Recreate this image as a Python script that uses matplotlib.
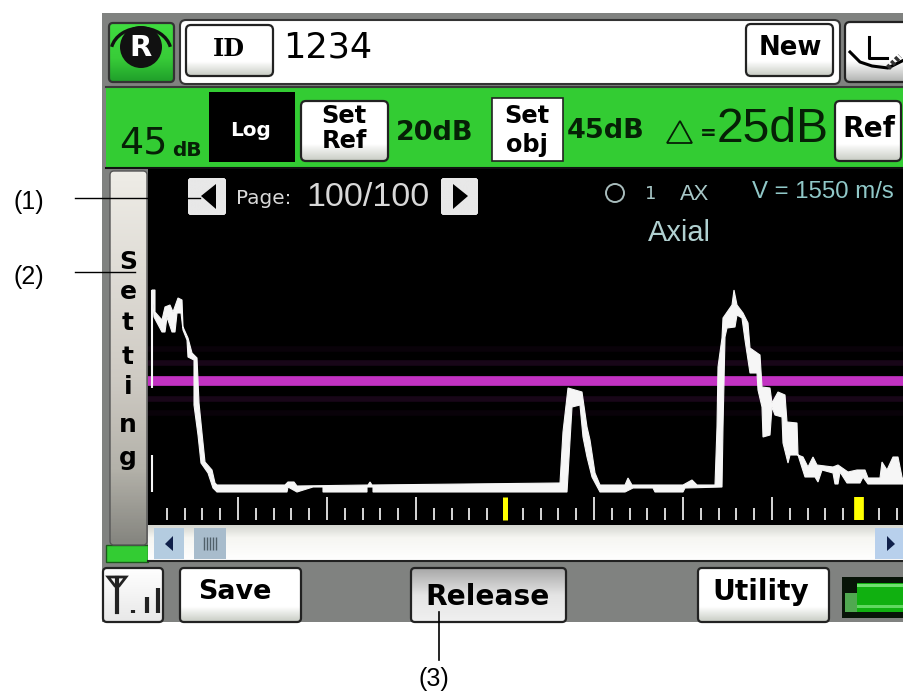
import numpy as np
import matplotlib
matplotlib.use("Agg")
import matplotlib.pyplot as plt
from matplotlib.patches import FancyBboxPatch, Rectangle, Circle, Polygon, Arc

W, H = 904, 693

# --- echo trace (sample position, amplitude) ---
upper_pos = [152,155,155,162,165,170,173,178,182,183,188,192,197,199,202,205,212,215,217,285,288,294,297,368,370,372,
             560,563,568,582,587,590,595,600,625,628,632,683,692,697,715,717,718,722,723,732,734,737,743,748,750,760,
             762,770,772,778,785,787,797,798,803,808,813,817,833,838,848,857,865,868,880,882,887,893,898,902,904]
upper_amp = [203,203,181,173,186,188,181,195,193,166,155,140,135,90,60,31,23,10,8,8,11,11,7,8,11,8,
             10,61,105,101,66,53,20,8,8,15,8,8,13,8,8,66,126,155,175,188,203,188,180,170,145,138,
             106,105,90,101,98,71,70,38,36,26,36,28,26,28,21,23,23,15,15,31,23,36,36,16,10]
lower_pos = [154,162,165,167,172,175,177,181,183,187,188,194,194,198,201,208,213,217,287,288,297,313,323,323,367,367,373,373,
             567,572,580,583,587,592,600,625,633,653,655,683,685,722,723,725,727,735,737,742,745,750,757,758,762,763,770,772,
             775,782,783,788,790,798,805,815,818,822,833,835,838,840,847,860,863,868,904]
lower_amp = [176,161,161,176,161,161,180,180,163,153,136,133,88,58,30,20,5,1,1,6,1,6,6,1,1,6,6,1,
             1,86,88,56,36,16,1,1,5,5,1,1,5,6,66,156,165,166,178,175,153,120,120,103,86,56,58,86,
             78,76,50,30,38,38,16,16,11,23,20,9,9,21,10,10,16,9,9]
gate_level = 112
short_ticks = [167,185,202,220,256,274,291,309,345,363,380,398,434,452,469,487,523,541,558,576,612,630,647,665,
               701,719,736,754,790,808,825,843,879,897]
long_ticks = [238,327,416,594,683,772]
marker_ticks = [505,859]

# --- screen text ---
setting_letters = list("Setting")
callouts = ["(1)", "(2)", "(3)"]
buttons = ["Save", "Release", "Utility"]

fig = plt.figure(figsize=(W/100, H/100), dpi=100, facecolor="white")
ui = fig.add_axes([0, 0, 1, 1], zorder=1)
ui.set_xlim(0, W); ui.set_ylim(H, 0); ui.axis("off")

def rect(x0, y0, x1, y1, c, z=1, **kw):
    ui.add_patch(Rectangle((x0, y0), x1-x0, y1-y0, fc=c, ec=kw.pop("ec", "none"), zorder=z, **kw))

BTN_STOPS = [(0, "#ffffff"), (0.72, "#ffffff"), (1, "#c8ccc4")]

def button(x0, y0, x1, y1, stops=BTN_STOPS, ec="#222222", r=5, lw=1.6, z=3):
    p = FancyBboxPatch((x0+r, y0+r), x1-x0-2*r, y1-y0-2*r, boxstyle=f"round,pad={r},rounding_size={r}",
                       fc="white", ec="none", zorder=z)
    ui.add_patch(p)
    grad = np.linspace(0, 1, 64).reshape(-1, 1)
    cmap = matplotlib.colors.LinearSegmentedColormap.from_list("b", stops)
    im = ui.imshow(grad, extent=(x0, x1, y1, y0), aspect="auto", cmap=cmap, vmin=0, vmax=1, zorder=z,
                   interpolation="bilinear")
    im.set_clip_path(p)
    if lw:
        ui.add_patch(FancyBboxPatch((x0+r, y0+r), x1-x0-2*r, y1-y0-2*r, boxstyle=f"round,pad={r},rounding_size={r}",
                                    fc="none", ec=ec, lw=lw, zorder=z+0.1))

def label(x, y, s, px, c="black", w="bold", fam="DejaVu Sans", ha="center", z=5, **kw):
    ui.text(x, y, s, fontsize=px*0.72, color=c, fontweight=w, family=fam, ha=ha, va="center", zorder=z, **kw)

DARK = "#062006"

# device frame
rect(102, 13, 904, 622, "#808280", 0)
rect(106, 88, 904, 169, "#33cc33", 1)
ui.plot([106, 904], [87, 87], color="#3a3a3a", lw=1.5, zorder=2)
ui.plot([106, 904], [168, 168], color="#111111", lw=1.5, zorder=2)
rect(148, 168, 904, 525, "black", 1)

# header
button(109, 23, 174, 82, stops=[(0, "#40dd40"), (0.6, "#38cc38"), (1, "#1f9f2a")], ec="#333333", r=4)
ui.add_patch(Circle((141, 47), 21, fc="#111111", ec="none", zorder=5))
ui.add_patch(Arc((141, 52), 60, 48, theta1=190, theta2=350, ec="#111111", lw=2.4, zorder=5))
label(141, 48, "R", 29, c="white")
ui.add_patch(FancyBboxPatch((186, 26), 648, 52, boxstyle="round,pad=6,rounding_size=6", fc="white", ec="#333333", lw=1.5, zorder=2))
button(186, 25, 273, 76)
label(229, 49, "ID", 24, fam="DejaVu Serif")
label(283, 47, "1234", 35, w="normal", ha="left")
button(746, 24, 833, 76)
label(790, 48, "New", 26)
button(845, 22, 912, 82, stops=[(0, "#ffffff"), (0.65, "#ffffff"), (1, "#b0b2b0")])
ui.plot([850, 860, 872, 888, 904], [52, 62, 66, 68, 60], color="black", lw=2.2, zorder=6)
ui.plot([869, 869, 887], [37, 58, 58], color="black", lw=2.2, zorder=6)
ui.plot([888, 900], [68, 56], color="#333333", lw=4, ls=(0, (0.6, 0.4)), zorder=6)

# green bar
label(119, 143, "45", 38, c=DARK, w="normal", ha="left")
label(172, 151, "dB", 20, c=DARK, ha="left")
rect(209, 92, 295, 162, "black", 2)
label(251, 130, "Log", 20, c="white")
button(301, 101, 388, 161)
label(344, 116, "Set", 24); label(344, 141, "Ref", 24)
label(396, 133, "20dB", 27, c=DARK, ha="left")
rect(492, 98, 563, 161, "white", 2, ec="#222222", lw=1.2)
label(527, 116, "Set", 24); label(527, 145, "obj", 24)
label(567, 131, "45dB", 27, c=DARK, ha="left")
ui.add_patch(Polygon([[667, 143], [692, 143], [680, 121]], closed=True, fc="none", ec=DARK, lw=1.3, zorder=5))
label(708, 133, "=", 20, c=DARK)
label(717, 129, "25dB", 48, c=DARK, w="normal", ha="left", fam="Liberation Sans")
button(835, 101, 901, 161)
label(869, 129, "Ref", 28)

# setting strip
button(110, 171, 147, 545, stops=[(0, "#eeece6"), (0.55, "#cfcbc4"), (0.8, "#b4b2aa"), (1, "#868680")], ec="#555555", r=4, lw=1)
rect(106, 545, 148, 562, "#33cc33", 2, ec="#1a5a1a", lw=1)
letter_y = [262, 292, 323, 357, 387, 425, 458]
for ch, yy in zip(setting_letters, letter_y):
    label(128, yy, ch, 25)

# page row
for x0, x1, tri in [(188, 226, [[216, 184], [216, 209], [201, 196]]), (441, 478, [[453, 184], [453, 209], [468, 196]])]:
    button(x0, 178, x1, 215, stops=[(0, "#e8e8e8"), (1, "#e8e8e8")], lw=0, r=3)
    ui.add_patch(Polygon(tri, closed=True, fc="black", ec="none", zorder=5))
label(236, 198, "Page:", 20, c="#d8d8d8", w="normal", ha="left")
label(306, 197, "100/100", 34, c="#d8d8d8", w="normal", ha="left", fam="Liberation Sans")
ui.add_patch(Circle((615, 193), 9, fc="none", ec="#a8bcbc", lw=1.4, zorder=5))
label(651, 194, "1", 18, c="#a8c8c8", w="normal")
label(695, 194, "AX", 22, c="#a8c8c8", w="normal", fam="Liberation Sans")
label(752, 192, "V = 1550 m/s", 24, c="#90c8c8", w="normal", ha="left", fam="Liberation Sans")
label(679, 233, "Axial", 29, c="#b0d0d0", w="normal", fam="Liberation Sans")

# scrollbar
button(148, 525, 904, 561, stops=[(0, "#d4d6d0"), (0.35, "#f6f6f2"), (1, "#ffffff")], r=1, lw=0)
rect(154, 528, 184, 559, "#b4cce0", 5); rect(194, 528, 226, 559, "#a8bccc", 5)
rect(875, 528, 904, 559, "#b8d0ec", 5)
ui.add_patch(Polygon([[173, 536], [173, 551], [165, 544]], closed=True, fc="#10204a", ec="none", zorder=6))
ui.add_patch(Polygon([[887, 536], [887, 551], [895, 544]], closed=True, fc="#10204a", ec="none", zorder=6))
ui.vlines([204, 207, 210, 213, 216], 537, 550, color="#50606a", lw=1, zorder=6)
ui.plot([148, 904], [561, 561], color="#222222", lw=1.5, zorder=6)

# bottom row
button(103, 568, 163, 622, stops=[(0, "#ffffff"), (1, "#e8e8e8")], r=4)
ui.add_patch(Polygon([[108, 577], [126, 577], [119, 586], [115, 586]], closed=True, fc="none", ec="#222222", lw=2, zorder=6))
ui.plot([117, 117], [578, 612], color="#222222", lw=3, zorder=6)
ui.vlines([133, 147, 158], [610, 597, 588], 613, color="#222222", lw=3, zorder=6)
for (name, x0, x1, xc, yc, px), stops in zip(
        [(buttons[0], 180, 301, 235, 592, 27), (buttons[1], 411, 566, 488, 597, 28), (buttons[2], 698, 829, 761, 592, 28)],
        [BTN_STOPS, [(0, "#a8a8a8"), (0.5, "#e4e4e4"), (1, "#f0f0f0")], BTN_STOPS]):
    button(x0, 568, x1, 622, stops=stops, r=4)
    label(xc, yc, name, px)
rect(842, 577, 904, 618, "#081408", 3)
rect(857, 583, 904, 612, "#10b010", 4)
rect(857, 584, 904, 587, "#70e070", 5); rect(857, 605, 904, 608, "#60d860", 5)
rect(845, 593, 857, 612, "#50a850", 4)

# scope: trace, gate and ruler through the axes' own scale
top, bottom = 168, 525
scope = fig.add_axes([148/W, 1-bottom/H, (W-148)/W, (bottom-top)/H], zorder=2)
scope.patch.set_alpha(0)
scope.set_xlim(148, W); scope.set_ylim(-32, 325); scope.axis("off")
for off, a in [(18, 0.13), (-18, 0.13), (32, 0.05), (-32, 0.05)]:
    scope.axhline(gate_level + off, color="#c030c0", lw=4, alpha=a, zorder=1)
scope.axhline(gate_level, color="#c232c2", lw=7, zorder=2)
scope.fill(np.r_[upper_pos, lower_pos[::-1]], np.r_[upper_amp, lower_amp[::-1]], fc="#f6f6f6", ec="#f6f6f6", lw=0.8, zorder=3)
scope.vlines([152, 152], [105, 1], [203, 38], color="#f6f6f6", lw=1.5, zorder=3)
scope.vlines(short_ticks, -27, -15, color="#e8e8e8", lw=1.3, zorder=3)
scope.vlines(long_ticks, -27, -4, color="#e8e8e8", lw=1.3, zorder=3)
scope.vlines(marker_ticks[0], -27, -4, color="#ffff00", lw=3.6, zorder=3)
scope.vlines(marker_ticks[1], -27, -4, color="#ffff00", lw=7, zorder=3)

# call-outs
an = fig.add_axes([0, 0, 1, 1], zorder=3)
an.patch.set_alpha(0); an.set_xlim(0, W); an.set_ylim(H, 0); an.axis("off")
an.plot([75, 200], [198, 198], color="black", lw=1)
an.plot([75, 135], [272, 272], color="black", lw=1)
an.plot([439, 439], [612, 660], color="black", lw=1.2)
for s, x, y in zip(callouts, [29, 29, 434], [202, 277, 679]):
    an.text(x, y, s, fontsize=18, family="Liberation Sans", ha="center", va="center", color="black")

fig.savefig("out.png", dpi=100, facecolor="white")
